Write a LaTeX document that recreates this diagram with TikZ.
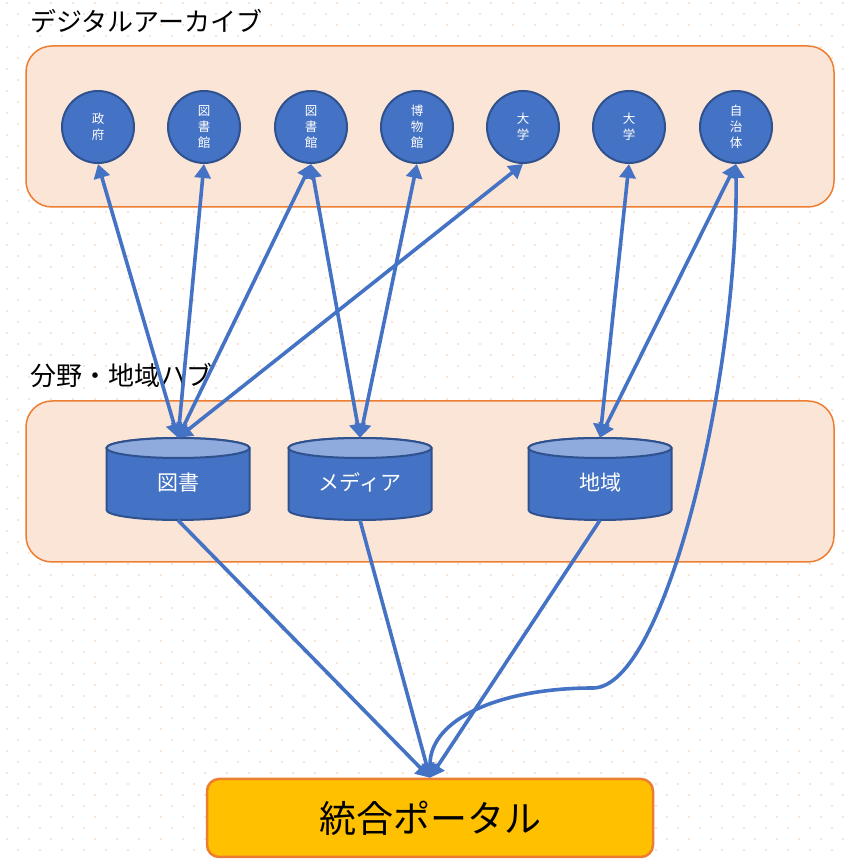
\documentclass[tikz,border=0pt]{standalone}
\usepackage{fontspec}
\newfontfamily\jpfont{Noto Sans CJK JP}
\usetikzlibrary{calc}
\usetikzlibrary{arrows.meta}

\definecolor{hubblue}{HTML}{4472C4}
\definecolor{hubedge}{HTML}{2F528F}
\definecolor{hubcap}{HTML}{8FAADC}
\definecolor{panelfill}{HTML}{FBE5D6}
\definecolor{paneledge}{HTML}{ED7D31}
\definecolor{portalfill}{HTML}{FFC000}
\definecolor{dotcolor}{HTML}{FBE3D2}

\tikzset{
  panel/.style={fill=panelfill, draw=paneledge, line width=1.5, rounded corners=26},
  paneltitle/.style={anchor=west, inner sep=0, font=\jpfont\fontsize{26}{26}\selectfont},
  archive/.style={circle, minimum size=72, inner sep=0, fill=hubblue, draw=hubedge,
    line width=2, text=white, align=center, font=\jpfont\fontsize{12.5}{16}\selectfont},
  hub/.style={minimum width=143, minimum height=82, inner sep=0, text=white,
    text height=24, text depth=0, font=\jpfont\fontsize{21}{21}\selectfont},
  portalbox/.style={minimum width=446, minimum height=78, inner sep=0, rounded corners=12,
    fill=portalfill, draw=paneledge, line width=2.5, font=\jpfont\fontsize{37}{37}\selectfont},
  link/.style={draw=hubblue, line width=3.6},
  >={Triangle[width=16pt,length=14pt]}
}

% cylinder around a coordinate
\newcommand\hubcylinder[1]{%
  \filldraw[fill=hubblue, draw=hubedge, line width=2]
    ($(#1)+(-71.5,-31)$) arc[start angle=180, end angle=360, x radius=71.5, y radius=10]
    -- ++(0,62) arc[start angle=0, end angle=180, x radius=71.5, y radius=10] -- cycle;
  \filldraw[fill=hubcap, draw=hubedge, line width=2]
    ($(#1)+(0,31)$) ellipse[x radius=71.5, y radius=10];
}

\begin{document}
\begin{tikzpicture}[x=1pt, y=1pt]
  % Constants
  \pgfmathsetmacro\archy{732}
  \pgfmathsetmacro\huby{380}
  % Boundary
  \path[use as bounding box] (0,0) rectangle (846,859);
  % Background dots
  \foreach \y in {8,30,...,859} \foreach \x in {17,39,...,846}
    \fill[dotcolor] (\x,\y) rectangle ++(2.4,2.4);
  \foreach \y in {19,41,...,859} \foreach \x in {6,28,...,846}
    \fill[dotcolor] (\x,\y) rectangle ++(2.4,2.4);
  % Panels
  \draw[panel] (26,652) rectangle (834,813);
  \draw[panel] (26,297) rectangle (834,458);
  \node[paneltitle] (archtitle) at (30,838) {デジタルアーカイブ};
  \node[paneltitle] (hubtitle) at (30,484) {分野・地域ハブ};
  % Archives
  \node[archive] (gov) at (98,\archy) {政\\府};
  \node[archive] (lib1) at (204,\archy) {図\\書\\館};
  \node[archive] (lib2) at (311,\archy) {図\\書\\館};
  \node[archive] (museum) at (417,\archy) {博\\物\\館};
  \node[archive] (univ1) at (523,\archy) {大\\学};
  \node[archive] (univ2) at (629,\archy) {大\\学};
  \node[archive] (local) at (736,\archy) {自\\治\\体};
  % Hubs
  \coordinate (libpos) at (178,\huby);
  \coordinate (mediapos) at (360,\huby);
  \coordinate (areapos) at (600,\huby);
  \hubcylinder{libpos}
  \hubcylinder{mediapos}
  \hubcylinder{areapos}
  \node[hub] (libhub) at (libpos) {図書};
  \node[hub] (mediahub) at (mediapos) {メディア};
  \node[hub] (areahub) at (areapos) {地域};
  % Portal
  \node[portalbox] (portal) at (430,41) {統合ポータル};
  % Links
  \draw[link,<->] (libhub.north) -- (gov.south);
  \draw[link,<->] (libhub.north) -- (lib1.south);
  \draw[link,<->] (libhub.north) -- (lib2.south);
  \draw[link,<->] (libhub.north) -- (univ1.south);
  \draw[link,<->] (mediahub.north) -- (lib2.south);
  \draw[link,<->] (mediahub.north) -- (museum.south);
  \draw[link,<->] (areahub.north) -- (univ2.south);
  \draw[link,<->] (areahub.north) -- (local.south);
  \draw[link,->] (libhub.south) -- (portal.north);
  \draw[link,->] (mediahub.south) -- (portal.north);
  \draw[link,->] (areahub.south) -- (portal.north);
  \draw[link,<->] (local.south) .. controls (738,480) and (665,171) .. (593,171)
    .. controls (500,171) and (430,140) .. (portal.north);
\end{tikzpicture}
\end{document}
